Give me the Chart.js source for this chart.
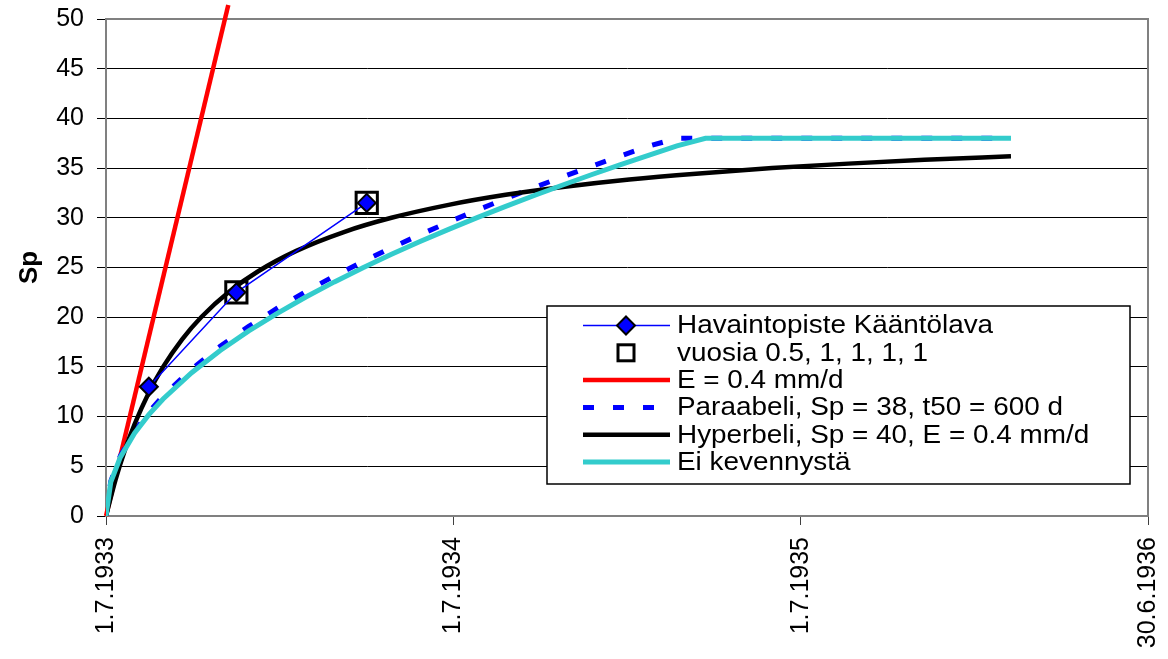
<!DOCTYPE html>
<html lang="fi">
<head>
<meta charset="UTF-8">
<title>Sp - Havaintopiste Kääntölava</title>
<style>
    body {
        margin: 0;
        background: #ffffff;
    }
    #chart {
        display: block;
    }
</style>
</head>
<body>
<canvas id="chart" width="1168" height="659"></canvas>

<script src="https://cdn.jsdelivr.net/npm/chart.js"></script>
<script>
// x values are days counted from 1.7.1933
const xTickDays = [0, 365, 730, 1095];
const xTickLabels = ['1.7.1933', '1.7.1934', '1.7.1935', '30.6.1936'];

const obsDays = [45, 137, 274];
const obsSp = [13.0, 22.5, 31.5];

const yearDays = [137, 274];
const yearSp = [22.5, 31.5];

const redDays = [0, 128.5];
const redSp = [0, 51.4];

const curveDays = [0, 5, 15, 30, 45, 60, 90, 120, 150, 180, 210, 240, 270, 300, 330, 360, 390, 420, 450, 480, 510, 540, 570, 600, 630, 951];
const paraSp = [0, 3.48, 6.03, 8.53, 10.45, 12.07, 14.78, 17.07, 19.08, 20.90, 22.58, 24.14, 25.60, 26.99, 28.30, 29.56, 30.77, 31.93, 33.05, 34.13, 35.18, 36.20, 37.20, 38, 38, 38];
const eiSp = [0, 3.40, 5.89, 8.33, 10.20, 11.77, 14.42, 16.65, 18.62, 20.39, 22.03, 23.55, 24.98, 26.33, 27.61, 28.84, 30.02, 31.15, 32.24, 33.30, 34.33, 35.32, 36.29, 37.23, 38, 38];

const hypDays = [0, 10, 20, 30, 45, 60, 80, 100, 130, 160, 200, 250, 300, 360, 420, 480, 550, 620, 700, 780, 860, 951];
const hypSp = [0, 3.64, 6.67, 9.23, 12.41, 15.0, 17.78, 20.0, 22.61, 24.62, 26.67, 28.57, 30.0, 31.30, 32.31, 33.10, 33.85, 34.44, 35.0, 35.45, 35.83, 36.19];

const seriesNames = [
    'Havaintopiste Kääntölava',
    'vuosia 0.5, 1, 1, 1, 1',
    'E = 0.4 mm/d',
    'Paraabeli, Sp = 38, t50 = 600 d',
    'Hyperbeli, Sp = 40, E = 0.4 mm/d',
    'Ei kevennystä'
];

function pts(xs, ys) {
    return xs.map((x, i) => ({ x: x, y: ys[i] }));
}

const FONT = '"Liberation Sans", Arial, sans-serif';
Chart.defaults.font.family = FONT;
Chart.defaults.color = '#000';

// keep the plot area exactly where the layout padding puts it
function noExtraPadding(scale) {
    scale.paddingLeft = 0;
    scale.paddingRight = 0;
    scale.paddingTop = 0;
    scale.paddingBottom = 0;
}

// legend drawn inside the plot, lower right
const legendBox = {
    id: 'legendBox',
    afterDraw(chart) {
        const ctx = chart.ctx;
        const bx = 547, by = 306, bw = 583, bh = 178;
        ctx.save();
        ctx.fillStyle = '#fff';
        ctx.fillRect(bx, by, bw, bh);
        ctx.strokeStyle = '#000';
        ctx.lineWidth = 1.5;
        ctx.strokeRect(bx, by, bw, bh);

        const x1 = 583, x2 = 670, xm = 626;
        ctx.font = '25px ' + FONT;
        ctx.textBaseline = 'middle';
        chart.data.datasets.forEach((ds, i) => {
            const y = 325.5 + i * 27.3;
            ctx.save();
            if (ds.showLine !== false) {
                ctx.strokeStyle = ds.borderColor;
                ctx.lineWidth = ds.borderWidth;
                ctx.setLineDash(ds.borderDash || []);
                ctx.beginPath();
                ctx.moveTo(x1, y);
                ctx.lineTo(x2, y);
                ctx.stroke();
            }
            ctx.setLineDash([]);
            if (ds.pointStyle === 'rectRot') {
                ctx.beginPath();
                ctx.moveTo(xm, y - 9);
                ctx.lineTo(xm + 9, y);
                ctx.lineTo(xm, y + 9);
                ctx.lineTo(xm - 9, y);
                ctx.closePath();
                ctx.fillStyle = ds.pointBackgroundColor;
                ctx.fill();
                ctx.lineWidth = 2;
                ctx.strokeStyle = '#000';
                ctx.stroke();
            } else if (ds.pointStyle === 'rect') {
                ctx.lineWidth = 3;
                ctx.strokeStyle = '#000';
                ctx.strokeRect(xm - 8, y - 8, 16, 16);
            }
            // text is a little wider than plain Arial in the original
            ctx.translate(677, y + 1);
            ctx.scale(1.115, 1);
            ctx.fillStyle = '#000';
            ctx.fillText(ds.label, 0, 0);
            ctx.restore();
        });
        ctx.restore();
    }
};

// grey frame round the plot area
const plotFrame = {
    id: 'plotFrame',
    beforeDatasetsDraw(chart) {
        const a = chart.chartArea;
        const ctx = chart.ctx;
        ctx.save();
        ctx.strokeStyle = '#808080';
        ctx.lineWidth = 2;
        ctx.strokeRect(a.left, a.top, a.right - a.left, a.bottom - a.top);
        ctx.restore();
    }
};

new Chart(document.getElementById('chart'), {
    type: 'line',
    data: {
        datasets: [
            {
                label: seriesNames[0],
                data: pts(obsDays, obsSp),
                borderColor: '#0000ff',
                borderWidth: 1.5,
                pointStyle: 'rectRot',
                pointRadius: 9,
                pointBackgroundColor: '#0000ff',
                pointBorderColor: '#000',
                pointBorderWidth: 2,
                tension: 0,
                order: 0
            },
            {
                label: seriesNames[1],
                data: pts(yearDays, yearSp),
                showLine: false,
                pointStyle: 'rect',
                pointRadius: 15,
                pointBackgroundColor: 'rgba(255,255,255,0)',
                pointBorderColor: '#000',
                pointBorderWidth: 3,
                borderColor: '#000',
                order: 1
            },
            {
                label: seriesNames[2],
                data: pts(redDays, redSp),
                borderColor: '#ff0000',
                borderWidth: 4.5,
                pointRadius: 0,
                clip: false,
                order: 5
            },
            {
                label: seriesNames[3],
                data: pts(curveDays, paraSp),
                borderColor: '#0000ff',
                borderWidth: 5,
                borderDash: [11, 19],
                pointRadius: 0,
                order: 4
            },
            {
                label: seriesNames[4],
                data: pts(hypDays, hypSp),
                borderColor: '#000000',
                borderWidth: 4.5,
                pointRadius: 0,
                cubicInterpolationMode: 'monotone',
                order: 3
            },
            {
                label: seriesNames[5],
                data: pts(curveDays, eiSp),
                borderColor: '#33cccc',
                borderWidth: 5,
                pointRadius: 0,
                order: 2
            }
        ]
    },
    options: {
        responsive: false,
        animation: false,
        layout: {
            padding: { left: 10, top: 19, right: 20, bottom: 0 }
        },
        plugins: {
            legend: { display: false },
            tooltip: { enabled: false }
        },
        scales: {
            x: {
                type: 'linear',
                min: 0,
                max: 1095,
                afterBuildTicks: (scale) => {
                    scale.ticks = xTickDays.map(v => ({ value: v }));
                },
                afterFit: (scale) => {
                    scale.height = 143;
                    noExtraPadding(scale);
                },
                ticks: {
                    callback: (value) => xTickLabels[xTickDays.indexOf(value)],
                    minRotation: 90,
                    maxRotation: 90,
                    padding: 12,
                    font: { size: 25 },
                    color: '#000'
                },
                grid: {
                    drawOnChartArea: false,
                    tickLength: 9,
                    color: '#404040'
                },
                border: { color: '#808080', width: 2 }
            },
            y: {
                min: 0,
                max: 50,
                afterFit: (scale) => {
                    scale.width = 96;
                    noExtraPadding(scale);
                },
                ticks: {
                    stepSize: 5,
                    padding: 13,
                    font: { size: 25 },
                    color: '#000'
                },
                grid: {
                    color: '#000',
                    lineWidth: 1,
                    tickLength: 9
                },
                border: { color: '#808080', width: 2 },
                title: {
                    display: true,
                    text: 'Sp',
                    font: { size: 26, weight: 'bold' },
                    color: '#000',
                    padding: { top: 4, bottom: 4 }
                }
            }
        }
    },
    plugins: [plotFrame, legendBox]
});
</script>
</body>
</html>
